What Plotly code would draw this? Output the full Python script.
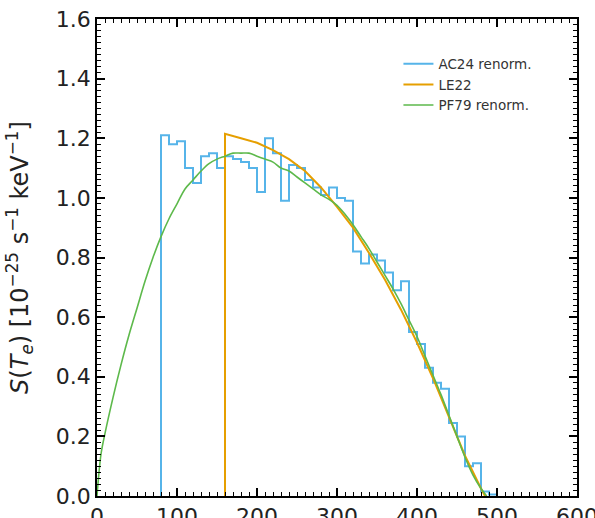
import plotly.graph_objects as go

# AC24 renorm. histogram (bin left edges in keV, values)
ac24_edges = [80, 90, 100, 110, 120, 130, 140, 150, 160, 170, 180, 190, 200, 210,
              220, 230, 240, 250, 260, 270, 280, 290, 300, 310, 320, 330, 340, 350,
              360, 370, 380, 390, 400, 410, 420, 430, 440, 450, 460, 470, 480, 490]
ac24_vals = [1.21, 1.18, 1.19, 1.10, 1.05, 1.14, 1.15, 1.10, 1.14, 1.13, 1.12, 1.10,
             1.02, 1.20, 1.15, 0.99, 1.11, 1.10, 1.06, 1.035, 1.01, 1.035, 1.00, 0.99,
             0.82, 0.78, 0.81, 0.79, 0.75, 0.69, 0.72, 0.55, 0.51, 0.43, 0.38, 0.36,
             0.245, 0.20, 0.10, 0.11, 0.015, 0.005]
ac24_end = 500

# LE22 curve
le22_T = [160, 160, 180, 200, 220, 240, 260, 280, 300, 320, 340, 360, 380, 400,
          420, 440, 460, 480, 485]
le22_S = [0.0, 1.215, 1.20, 1.185, 1.16, 1.13, 1.09, 1.035, 0.97, 0.90, 0.815, 0.725,
          0.625, 0.515, 0.395, 0.265, 0.135, 0.025, 0.0]

# PF79 renorm. curve
pf79_T = [0, 5, 10, 20, 30, 40, 50, 60, 70, 80, 90, 100, 110, 120, 130, 140, 150,
          160, 170, 180, 190, 200, 210, 220, 230, 240, 250, 260, 270, 280, 290, 300,
          310, 320, 330, 340, 350, 360, 370, 380, 390, 400, 410, 420, 430, 440, 450,
          460, 470, 480, 487]
pf79_S = [0.0, 0.14, 0.21, 0.33, 0.44, 0.54, 0.63, 0.72, 0.80, 0.87, 0.93, 0.98,
          1.03, 1.06, 1.09, 1.115, 1.13, 1.14, 1.15, 1.15, 1.15, 1.14, 1.13, 1.12,
          1.10, 1.09, 1.07, 1.05, 1.03, 1.01, 0.995, 0.975, 0.945, 0.91, 0.87, 0.83,
          0.785, 0.74, 0.695, 0.645, 0.59, 0.535, 0.47, 0.405, 0.34, 0.27, 0.20,
          0.13, 0.07, 0.025, 0.0]

hx = [ac24_edges[0]] + ac24_edges + [ac24_end]
hy = [0.0] + ac24_vals + [0.0]

fig = go.Figure()
fig.add_trace(go.Scatter(x=hx, y=hy, mode="lines", line_shape="hv",
                         line=dict(color="#56B4E9", width=2), name="AC24 renorm."))
fig.add_trace(go.Scatter(x=le22_T, y=le22_S, mode="lines",
                         line=dict(color="#E69F00", width=2), name="LE22"))
fig.add_trace(go.Scatter(x=pf79_T, y=pf79_S, mode="lines", line_shape="spline",
                         line=dict(color="#5DB94B", width=1.6), name="PF79 renorm."))

font = "DejaVu Sans, sans-serif"
axis_common = dict(showgrid=False, zeroline=False, showline=True, linecolor="black",
                   linewidth=1.5, mirror="allticks", ticks="inside", ticklen=8,
                   tickwidth=1.5, tickcolor="black", automargin=False,
                   ticklabeloverflow="allow",
                   tickfont=dict(family=font, size=22, color="#222"))
fig.update_xaxes(range=[0, 600], dtick=100, tick0=0,
                 minor=dict(dtick=10, ticks="inside", ticklen=4, tickcolor="black",
                            tickwidth=1),
                 **axis_common)
fig.update_yaxes(range=[0, 1.6], dtick=0.2, tick0=0, tickformat=".1f",
                 minor=dict(dtick=0.02, ticks="inside", ticklen=4, tickcolor="black",
                            tickwidth=1),
                 title=dict(text="<i>S</i>(<i>T<sub>e</sub></i>) [10<sup>\u221225</sup> s<sup>\u22121</sup> keV<sup>\u22121</sup>]",
                            font=dict(family=font, size=24, color="#222"), standoff=20),
                 **axis_common)

fig.update_layout(
    width=595, height=518,
    margin=dict(l=97, r=18, t=19, b=22),
    plot_bgcolor="white", paper_bgcolor="white",
    legend=dict(x=0.628, y=0.938, xanchor="left", yanchor="top",
                font=dict(family=font, size=13.5, color="#333"),
                bgcolor="rgba(255,255,255,0)", itemwidth=30, tracegroupgap=0),
)

fig.write_html("out.html")
